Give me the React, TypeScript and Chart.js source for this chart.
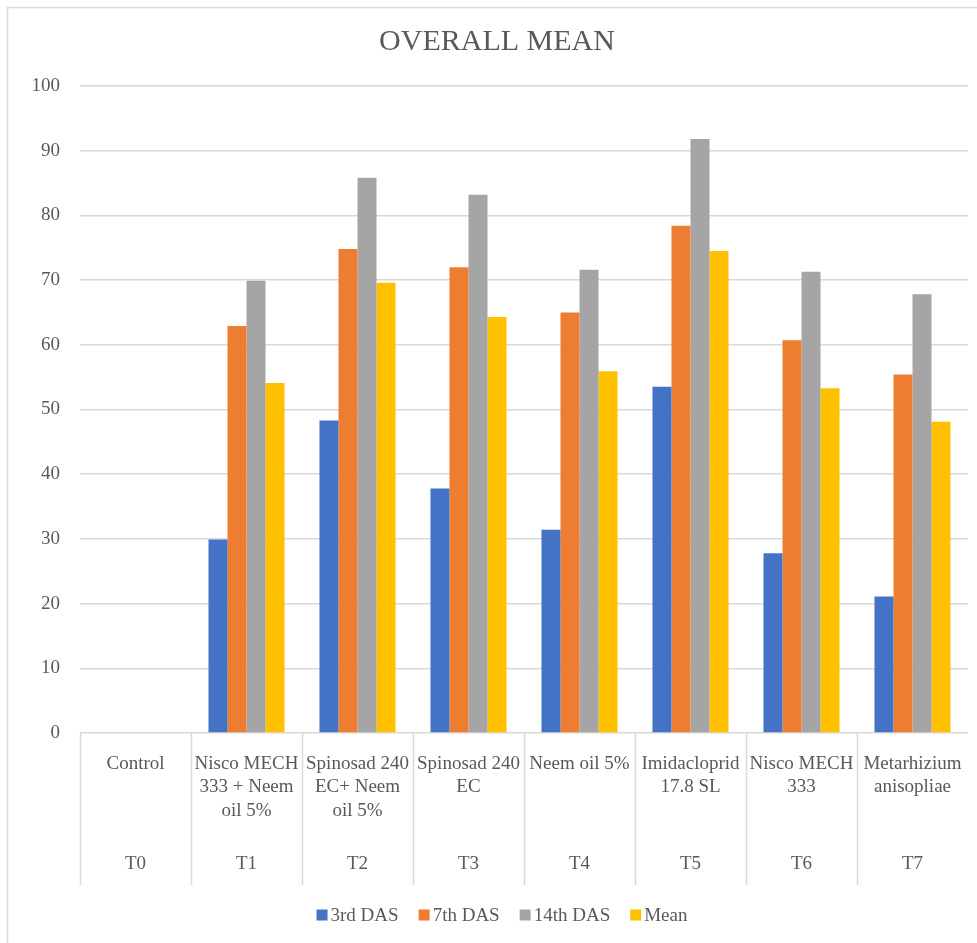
import React, { useEffect, useRef } from "react";
import { Chart, registerables } from "chart.js";

Chart.register(...registerables);

const treatmentCodes = ["T0", "T1", "T2", "T3", "T4", "T5", "T6", "T7"];
const treatmentNames: string[][] = [
  ["Control"],
  ["Nisco MECH", "333 + Neem", "oil 5%"],
  ["Spinosad 240", "EC+ Neem", "oil 5%"],
  ["Spinosad 240", "EC"],
  ["Neem oil 5%"],
  ["Imidacloprid", "17.8 SL"],
  ["Nisco MECH", "333"],
  ["Metarhizium", "anisopliae"],
];
const seriesNames = ["3rd DAS", "7th DAS", "14th DAS", "Mean"];
const das3 = [0, 29.9, 48.3, 37.8, 31.4, 53.5, 27.8, 21.1];
const das7 = [0, 62.9, 74.8, 72.0, 65.0, 78.4, 60.7, 55.4];
const das14 = [0, 69.9, 85.8, 83.2, 71.6, 91.8, 71.3, 67.8];
const meanVals = [0, 54.1, 69.6, 64.3, 55.9, 74.5, 53.3, 48.1];
const seriesColors = ["#4472C4", "#ED7D31", "#A5A5A5", "#FFC000"];
const yMin = 0;
const yMax = 100;
const yStep = 10;

const FONT = "'Liberation Serif', 'Times New Roman', serif";
const TEXT = "#595959";
const GRID = "#d9d9d9";

const decorPlugin = {
  id: "decor",
  beforeDraw(chart: any) {
    const ctx = chart.ctx;
    ctx.save();
    ctx.fillStyle = "#ffffff";
    ctx.fillRect(0, 0, chart.width, chart.height);
    ctx.strokeStyle = GRID;
    ctx.lineWidth = 1.5;
    ctx.beginPath();
    ctx.moveTo(7.5, chart.height);
    ctx.lineTo(7.5, 7.5);
    ctx.lineTo(chart.width, 7.5);
    ctx.stroke();
    ctx.restore();
  },
  afterDraw(chart: any) {
    const ctx = chart.ctx;
    const xs = chart.scales.x;
    const area = chart.chartArea;
    const n = chart.data.labels.length;
    const w = xs.width / n;
    ctx.save();
    // separators
    ctx.strokeStyle = GRID;
    ctx.lineWidth = 1.5;
    for (let i = 0; i < n; i++) {
      const x = Math.round(xs.getPixelForValue(i) - w / 2) + 0.5;
      ctx.beginPath();
      ctx.moveTo(x, area.bottom);
      ctx.lineTo(x, area.bottom + 152);
      ctx.stroke();
    }
    // labels
    ctx.fillStyle = TEXT;
    ctx.font = `19px ${FONT}`;
    ctx.textAlign = "center";
    ctx.textBaseline = "middle";
    for (let i = 0; i < n; i++) {
      const cx = xs.getPixelForValue(i);
      treatmentNames[i].forEach((line, j) => {
        ctx.fillText(line, cx, area.bottom + 31 + j * 23.5);
      });
      ctx.fillText(chart.data.labels[i], cx, area.bottom + 131);
    }
    // legend
    const ds = chart.data.datasets;
    const box = 11;
    const gap = 3;
    const spacing = 20;
    ctx.textAlign = "left";
    const widths = ds.map((d: any) => ctx.measureText(d.label).width);
    const total =
      widths.reduce((a: number, b: number) => a + b, 0) +
      ds.length * (box + gap) +
      (ds.length - 1) * spacing;
    let x = 502 - total / 2;
    const y = 915;
    ds.forEach((d: any, i: number) => {
      ctx.fillStyle = d.backgroundColor;
      ctx.fillRect(x, y - box / 2, box, box);
      x += box + gap;
      ctx.fillStyle = TEXT;
      ctx.fillText(d.label, x, y + 1);
      x += widths[i] + spacing;
    });
    ctx.restore();
  },
};

export default function App() {
  const ref = useRef<HTMLCanvasElement | null>(null);
  useEffect(() => {
    if (!ref.current) return;
    const values = [das3, das7, das14, meanVals];
    const chart = new Chart(ref.current, {
      type: "bar",
      data: {
        labels: treatmentCodes,
        datasets: seriesNames.map((name, i) => ({
          label: name,
          data: values[i],
          backgroundColor: seriesColors[i],
          borderWidth: 0,
          barPercentage: 1,
          categoryPercentage: 0.685,
        })),
      },
      options: {
        responsive: false,
        animation: false,
        devicePixelRatio: 1,
        layout: { padding: { left: 26, right: 26, top: 0, bottom: 58 } },
        plugins: {
          legend: { display: false },
          tooltip: { enabled: false },
          title: {
            display: true,
            text: "OVERALL MEAN",
            color: TEXT,
            font: { family: FONT, size: 30, weight: "normal" },
            padding: { top: 24, bottom: 26 },
          },
        },
        scales: {
          x: {
            ticks: { display: false },
            grid: { display: false },
            border: { display: false },
            afterFit: (s: any) => {
              s.height = 152;
            },
          },
          y: {
            min: yMin,
            max: yMax,
            ticks: {
              stepSize: yStep,
              color: TEXT,
              font: { family: FONT, size: 19 },
              padding: 20,
            },
            grid: { color: GRID, lineWidth: 1.5, drawTicks: false },
            border: { display: false },
            afterFit: (s: any) => {
              s.width = 54;
            },
          },
        },
      },
      plugins: [decorPlugin],
    });
    return () => chart.destroy();
  }, []);
  return (
    <div
      style={{
        position: "fixed",
        left: 0,
        top: 0,
        width: 977,
        height: 943,
        overflow: "hidden",
        background: "#fff",
      }}
    >
      <canvas ref={ref} width={994} height={943} style={{ display: "block" }} />
    </div>
  );
}
